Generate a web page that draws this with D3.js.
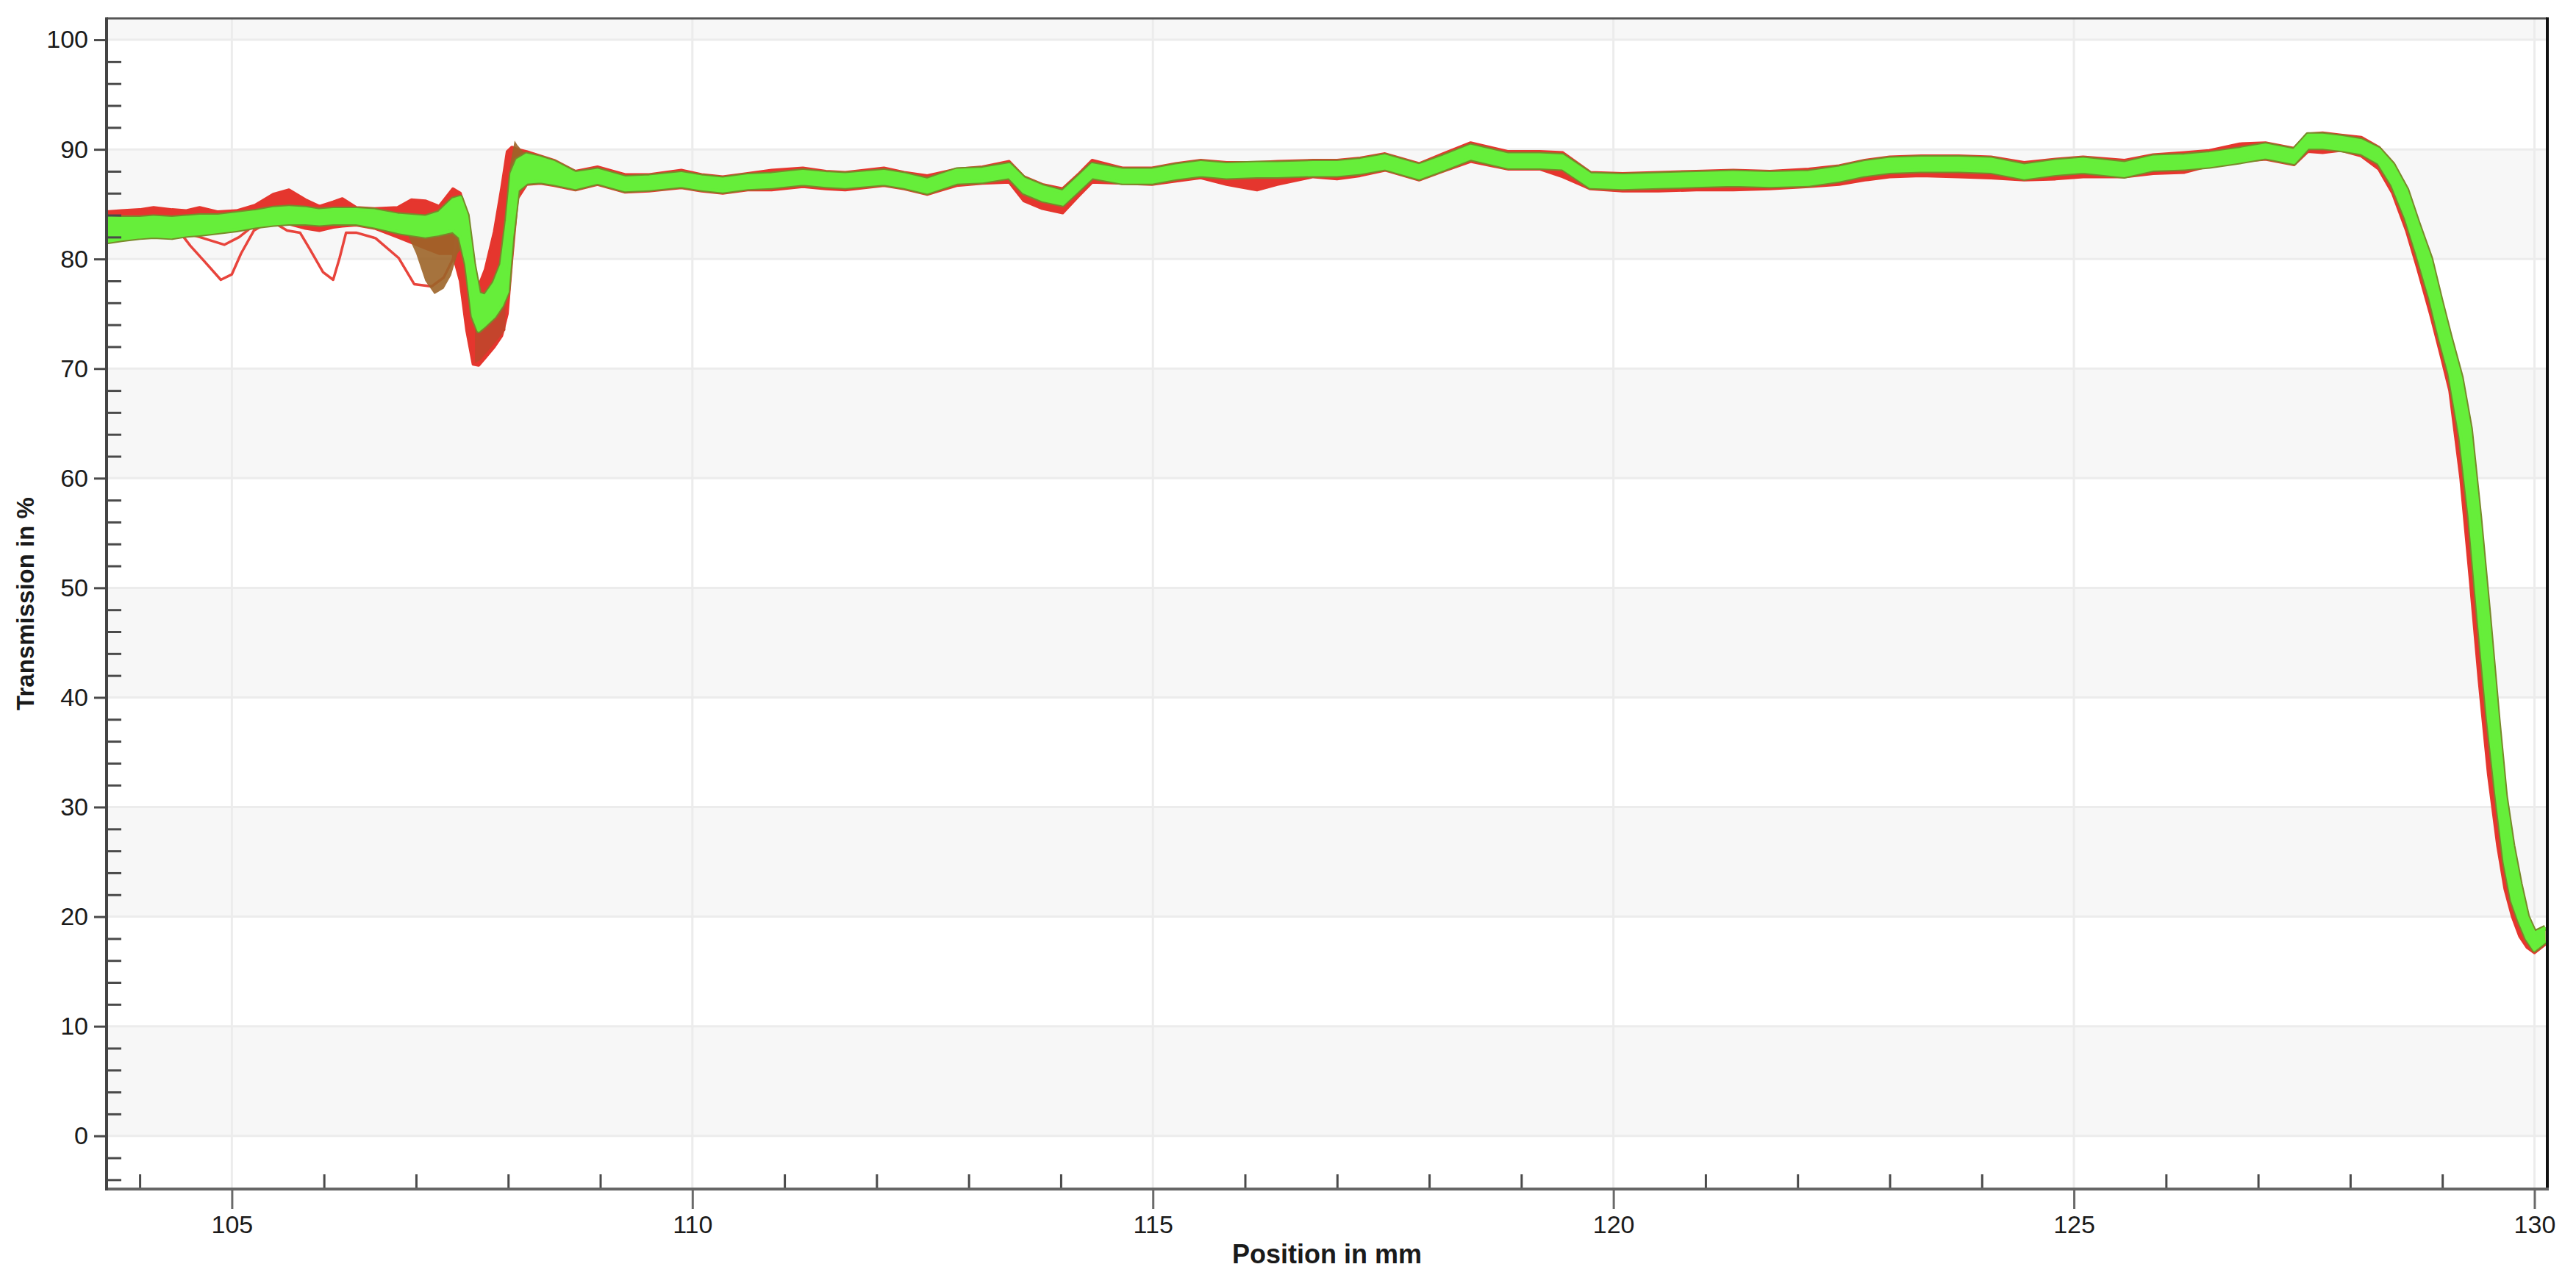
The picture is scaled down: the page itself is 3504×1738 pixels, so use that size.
<!DOCTYPE html>
<html>
<head>
<meta charset="utf-8">
<script src="https://cdn.jsdelivr.net/npm/d3@7"></script>
<style>
	html, body { margin: 0; padding: 0; background: #fff; }
	svg { display: block; }
</style>
</head>
<body>
<div id="chart"></div>
<script>
// transmission scan: many overlaid runs, drawn as red / green envelopes

var positionMm = [103.64, 103.8, 104.0, 104.15, 104.35, 104.5, 104.65, 104.85, 105.05, 105.25,
	105.45, 105.62, 105.8, 105.95, 106.1, 106.2, 106.35, 106.55, 106.8, 106.95,
	107.1, 107.25, 107.4, 107.48, 107.55, 107.62, 107.68, 107.75, 107.85, 107.93,
	107.99, 108.04, 108.1, 108.2, 108.35, 108.5, 108.73, 108.97, 109.27, 109.53,
	109.88, 110.1, 110.33, 110.6, 110.86, 111.2, 111.45, 111.66, 112.08, 112.3,
	112.55, 112.87, 113.15, 113.44, 113.6, 113.8, 114.02, 114.2, 114.34, 114.67,
	114.99, 115.25, 115.52, 115.8, 116.13, 116.35, 116.74, 117.0, 117.25, 117.52,
	117.89, 118.15, 118.45, 118.86, 119.2, 119.45, 119.75, 120.1, 120.49, 120.9,
	121.3, 121.7, 122.12, 122.45, 122.73, 123.0, 123.34, 123.75, 124.1, 124.46,
	124.8, 125.1, 125.55, 125.86, 126.2, 126.47, 126.8, 127.08, 127.39, 127.54,
	127.7, 127.9, 128.12, 128.31, 128.46, 128.61, 128.73, 128.87, 128.98, 129.08,
	129.2, 129.3, 129.4, 129.5, 129.6, 129.68, 129.76, 129.84, 129.92, 130.0, 130.12];

var greenUpper = [83.8, 83.7, 83.7, 83.8, 83.7, 83.8, 83.9, 83.9, 84.1, 84.3,
	84.6, 84.7, 84.6, 84.4, 84.5, 84.5, 84.5, 84.4, 84.0, 83.9,
	83.8, 84.2, 85.4, 85.6, 84.0, 79.5, 76.8, 76.6, 77.8, 79.5,
	83.5, 87.8, 89.0, 89.5, 89.2, 88.8, 87.8, 88.1, 87.4, 87.5,
	87.8, 87.5, 87.3, 87.6, 87.7, 88.0, 87.8, 87.7, 88.0, 87.7,
	87.2, 88.1, 88.2, 88.6, 87.3, 86.6, 86.1, 87.5, 88.6, 88.1,
	88.1, 88.5, 88.8, 88.6, 88.7, 88.7, 88.8, 88.8, 89.0, 89.4,
	88.5, 89.3, 90.3, 89.5, 89.5, 89.4, 87.7, 87.6, 87.7, 87.8,
	87.9, 87.8, 87.9, 88.3, 88.8, 89.1, 89.2, 89.2, 89.1, 88.5,
	88.9, 89.1, 88.7, 89.3, 89.4, 89.6, 90.0, 90.4, 89.9, 91.3,
	91.3, 91.1, 90.8, 90.0, 88.6, 86.3, 83.3, 80.0, 76.2, 72.9,
	69.2, 64.5, 56.5, 47.5, 38.0, 31.0, 26.5, 23.0, 20.0, 18.5, 19.0];

var greenLower = [81.6, 81.8, 82.0, 82.1, 82.0, 82.2, 82.3, 82.5, 82.7, 83.0,
	83.2, 83.3, 83.3, 83.2, 83.3, 83.3, 83.3, 83.0, 82.5, 82.3,
	82.1, 82.3, 82.6, 82.0, 79.5, 74.8, 73.5, 74.0, 74.8, 75.8,
	77.0, 82.0, 86.3, 87.0, 87.1, 86.9, 86.5, 87.0, 86.3, 86.4,
	86.7, 86.4, 86.2, 86.5, 86.6, 86.9, 86.7, 86.6, 86.9, 86.6,
	86.1, 87.0, 87.1, 87.5, 86.1, 85.4, 85.0, 86.4, 87.5, 87.0,
	87.0, 87.4, 87.7, 87.5, 87.6, 87.6, 87.7, 87.7, 87.9, 88.3,
	87.4, 88.2, 89.2, 88.4, 88.4, 88.3, 86.6, 86.5, 86.6, 86.7,
	86.8, 86.7, 86.8, 87.2, 87.7, 88.0, 88.1, 88.1, 88.0, 87.4,
	87.8, 88.0, 87.6, 88.2, 88.3, 88.5, 88.9, 89.3, 88.8, 90.2,
	90.2, 90.0, 89.7, 88.8, 86.8, 83.7, 80.5, 76.5, 72.7, 69.6,
	63.8, 56.5, 47.0, 38.0, 30.5, 25.0, 21.5, 19.6, 18.0, 17.0, 17.8];

var redUpper = [84.3, 84.4, 84.5, 84.7, 84.5, 84.4, 84.7, 84.3, 84.4, 84.9,
	85.9, 86.3, 85.4, 84.8, 85.2, 85.5, 84.7, 84.6, 84.7, 85.4,
	85.3, 84.8, 86.4, 86.0, 84.0, 79.0, 77.5, 79.0, 82.5, 86.5,
	89.8, 90.2, 90.0, 89.8, 89.4, 89.0, 88.0, 88.4, 87.7, 87.7,
	88.1, 87.7, 87.5, 87.8, 88.1, 88.3, 88.0, 87.9, 88.3, 87.9,
	87.6, 88.2, 88.4, 88.9, 87.5, 86.8, 86.4, 87.8, 89.0, 88.3,
	88.3, 88.7, 89.0, 88.8, 88.8, 88.9, 89.0, 89.0, 89.2, 89.6,
	88.7, 89.6, 90.6, 89.8, 89.8, 89.7, 87.9, 87.8, 87.9, 88.0,
	88.1, 88.0, 88.2, 88.5, 89.0, 89.3, 89.4, 89.4, 89.3, 88.8,
	89.1, 89.3, 89.0, 89.5, 89.7, 89.9, 90.5, 90.6, 90.1, 91.4,
	91.5, 91.3, 91.1, 90.2, 88.8, 86.5, 83.5, 80.2, 76.4, 73.0,
	69.4, 64.5, 56.5, 47.5, 38.0, 31.0, 26.5, 23.0, 20.0, 18.5, 19.0];

var redLower = [82.0, 82.2, 82.3, 82.4, 82.3, 82.4, 82.5, 82.6, 82.8, 83.0,
	83.2, 83.2, 82.8, 82.6, 82.9, 83.0, 83.1, 82.8, 82.0, 81.5,
	81.0, 80.5, 80.5, 78.0, 73.5, 70.4, 70.3, 71.0, 72.0, 73.0,
	75.0, 80.0, 85.5, 86.8, 86.9, 86.7, 86.3, 86.8, 86.1, 86.2,
	86.5, 86.2, 86.0, 86.3, 86.3, 86.6, 86.4, 86.3, 86.7, 86.4,
	85.9, 86.7, 86.9, 87.0, 85.3, 84.6, 84.2, 85.8, 87.0, 86.9,
	86.8, 87.1, 87.4, 86.8, 86.3, 86.8, 87.5, 87.3, 87.6, 88.1,
	87.2, 88.0, 88.9, 88.2, 88.2, 87.5, 86.4, 86.2, 86.2, 86.3,
	86.3, 86.4, 86.6, 86.8, 87.2, 87.5, 87.6, 87.5, 87.4, 87.2,
	87.3, 87.5, 87.5, 87.8, 87.9, 88.5, 88.9, 89.1, 88.6, 89.8,
	89.7, 89.9, 89.4, 88.2, 86.0, 82.6, 79.2, 75.0, 71.4, 68.0,
	60.0, 51.0, 41.5, 33.0, 26.5, 22.5, 20.0, 18.2, 17.2, 16.7, 17.5];

// single runs that drop out of the bundle near the start
var outlierAMm = [104.42, 104.55, 104.7, 104.88, 105.0, 105.1, 105.24, 105.42, 105.6, 105.74,
	105.84, 105.99, 106.1, 106.17, 106.24, 106.35, 106.56, 106.81, 106.98, 107.17,
	107.3, 107.4, 107.46];
var outlierAValue = [82.6, 81.2, 79.8, 78.1, 78.6, 80.5, 82.6, 83.5, 82.6, 82.4,
	81.0, 78.8, 78.1, 80.1, 82.4, 82.4, 81.9, 80.1, 77.7, 77.5,
	78.3, 80.0, 83.0];
var outlierBMm = [104.4, 104.65, 104.92, 105.08, 105.2];
var outlierBValue = [82.6, 82.0, 81.3, 82.0, 82.8];

// brown runs: the dip before the edge and the overshoot after it (null = gap)
var brownMm = [106.92, 107.0, 107.1, 107.2, 107.3, 107.38, 107.45, 107.5, 107.8, 108.02, 108.07, 108.1, 108.16, 108.24];
var brownUpper = [82.5, 82.4, 82.3, 82.0, 82.2, 82.5, 82.8, 82.0, null, 88.5, 90.8, 90.4, 89.8, 89.6];
var brownLower = [82.0, 80.5, 78.0, 76.8, 77.3, 78.5, 80.5, 81.0, null, 87.5, 89.0, 89.2, 89.0, 89.0];

// darker red where the runs pile up inside the dip
var dipMm = [107.64, 107.7, 107.8, 107.9, 107.97];
var dipUpper = [74.5, 75.7, 75.7, 75.8, 76.0];
var dipLower = [70.5, 70.8, 71.8, 72.8, 73.5];

var yMajorTicks = [0, 10, 20, 30, 40, 50, 60, 70, 80, 90, 100];
var yMinorTicks = [-4, -2, 2, 4, 6, 8, 12, 14, 16, 18, 22, 24, 26, 28, 32, 34, 36, 38, 42, 44, 46, 48,
	52, 54, 56, 58, 62, 64, 66, 68, 72, 74, 76, 78, 82, 84, 86, 88, 92, 94, 96, 98];
var xMajorTicks = [105, 110, 115, 120, 125, 130];
var xMinorTicks = [104, 106, 107, 108, 109, 111, 112, 113, 114, 116, 117, 118, 119,
	121, 122, 123, 124, 126, 127, 128, 129];
var shadedBands = [[0, 10], [20, 30], [40, 50], [60, 70], [80, 90], [100, 110]];

var W = 3504, H = 1738;
var plot = {left: 145, top: 25, right: 3465, bottom: 1617};
var FONT = "'Liberation Sans', Arial, sans-serif";

var x = d3.scaleLinear().domain([103.64, 130.14]).range([plot.left, plot.right]);
var y = d3.scaleLinear().domain([-4.85, 101.95]).range([plot.bottom, plot.top]);

function band(xs, hi, lo) {
	return xs.map(function(p, i) { return {x: p, hi: hi[i], lo: lo[i]}; });
}
function pts(xs, vs) {
	return xs.map(function(p, i) { return {x: p, v: vs[i]}; });
}

var svg = d3.select("#chart").append("svg")
	.attr("width", W)
	.attr("height", H);

svg.append("defs").append("clipPath").attr("id", "plotclip")
	.append("rect")
	.attr("x", plot.left).attr("y", plot.top)
	.attr("width", plot.right - plot.left).attr("height", plot.bottom - plot.top);

// alternating background bands
svg.append("g").selectAll("rect").data(shadedBands).enter().append("rect")
	.attr("x", plot.left)
	.attr("width", plot.right - plot.left)
	.attr("y", function(d) { return Math.max(plot.top, y(d[1])); })
	.attr("height", function(d) { return y(d[0]) - Math.max(plot.top, y(d[1])); })
	.attr("fill", "#f7f7f7");

// grid
var grid = svg.append("g").attr("stroke", "#ececec").attr("stroke-width", 3);
grid.selectAll("line.h").data(yMajorTicks).enter().append("line")
	.attr("x1", plot.left).attr("x2", plot.right)
	.attr("y1", function(d) { return y(d); }).attr("y2", function(d) { return y(d); });
grid.selectAll("line.v").data(xMajorTicks).enter().append("line")
	.attr("y1", plot.top).attr("y2", plot.bottom)
	.attr("x1", function(d) { return x(d); }).attr("x2", function(d) { return x(d); });

var traces = svg.append("g").attr("clip-path", "url(#plotclip)");

var area = d3.area()
	.defined(function(d) { return d.hi != null; })
	.x(function(d) { return x(d.x); })
	.y0(function(d) { return y(d.lo); })
	.y1(function(d) { return y(d.hi); });
var topLine = d3.line().x(function(d) { return x(d.x); }).y(function(d) { return y(d.hi); });
var bottomLine = d3.line().x(function(d) { return x(d.x); }).y(function(d) { return y(d.lo); });
var valueLine = d3.line().x(function(d) { return x(d.x); }).y(function(d) { return y(d.v); });

var redBand = band(positionMm, redUpper, redLower);
var greenBand = band(positionMm, greenUpper, greenLower);

// red runs underneath
traces.append("path").attr("d", area(redBand)).attr("fill", "#e5362e");
[topLine, bottomLine].forEach(function(l) {
	traces.append("path").attr("d", l(redBand))
		.attr("fill", "none").attr("stroke", "#e5362e")
		.attr("stroke-width", 4).attr("stroke-linejoin", "round");
});

[pts(outlierAMm, outlierAValue), pts(outlierBMm, outlierBValue)].forEach(function(run) {
	traces.append("path").attr("d", valueLine(run))
		.attr("fill", "none").attr("stroke", "#e8443c")
		.attr("stroke-width", 3.5).attr("stroke-linejoin", "round");
});

traces.append("path").attr("d", area(band(dipMm, dipUpper, dipLower))).attr("fill", "#c4442c");
traces.append("path").attr("d", area(band(brownMm, brownUpper, brownLower)))
	.attr("fill", "#9c6428").attr("fill-opacity", 0.9);

// olive rims, then the green bundle on top
[topLine, bottomLine].forEach(function(l) {
	traces.append("path").attr("d", l(greenBand))
		.attr("fill", "none").attr("stroke", "#788a2a")
		.attr("stroke-width", 8).attr("stroke-linejoin", "round");
});
traces.append("path").attr("d", area(greenBand)).attr("fill", "#66ee3a");
[topLine, bottomLine].forEach(function(l) {
	traces.append("path").attr("d", l(greenBand))
		.attr("fill", "none").attr("stroke", "#66ee3a")
		.attr("stroke-width", 4).attr("stroke-linejoin", "round");
});

// axes
var yAxis = svg.append("g").attr("transform", "translate(" + plot.left + ",0)")
	.call(d3.axisLeft(y).tickValues(yMajorTicks).tickSize(17).tickPadding(8).tickFormat(d3.format("d")));
var yMinor = svg.append("g").attr("transform", "translate(" + plot.left + ",0)")
	.call(d3.axisRight(y).tickValues(yMinorTicks).tickSize(20).tickFormat(""));
var xAxis = svg.append("g").attr("transform", "translate(0," + plot.bottom + ")")
	.call(d3.axisBottom(x).tickValues(xMajorTicks).tickSize(27).tickPadding(9).tickFormat(d3.format("d")));
var xMinor = svg.append("g").attr("transform", "translate(0," + plot.bottom + ")")
	.call(d3.axisTop(x).tickValues(xMinorTicks).tickSize(20).tickFormat(""));

[yAxis, yMinor, xAxis, xMinor].forEach(function(g) {
	g.select(".domain").remove();
	g.selectAll(".tick line").attr("stroke", "#4a4a4a").attr("stroke-width", 3);
	g.selectAll(".tick text").attr("fill", "#1a1a1a")
		.style("font-family", FONT).style("font-size", "34px");
});
xAxis.selectAll(".tick line").attr("stroke", "#6a6a6a");

// frame
svg.append("line").attr("x1", plot.left).attr("x2", plot.right)
	.attr("y1", plot.top).attr("y2", plot.top)
	.attr("stroke", "#555").attr("stroke-width", 3);
svg.append("line").attr("x1", plot.right).attr("x2", plot.right)
	.attr("y1", plot.top - 1.5).attr("y2", plot.bottom + 2)
	.attr("stroke", "#111").attr("stroke-width", 4);
svg.append("line").attr("x1", plot.left).attr("x2", plot.right + 2)
	.attr("y1", plot.bottom).attr("y2", plot.bottom)
	.attr("stroke", "#666").attr("stroke-width", 4);
svg.append("line").attr("x1", plot.left).attr("x2", plot.left)
	.attr("y1", plot.top - 1.5).attr("y2", plot.bottom + 2)
	.attr("stroke", "#444").attr("stroke-width", 4);

// titles
svg.append("text")
	.attr("x", (plot.left + plot.right) / 2).attr("y", 1718)
	.attr("text-anchor", "middle")
	.style("font-family", FONT).style("font-size", "36px").style("font-weight", "bold")
	.attr("fill", "#1a1a1a")
	.text("Position in mm");
svg.append("text")
	.attr("transform", "translate(46," + (plot.top + plot.bottom) / 2 + ") rotate(-90)")
	.attr("text-anchor", "middle")
	.style("font-family", FONT).style("font-size", "33px").style("font-weight", "bold")
	.attr("fill", "#1a1a1a")
	.text("Transmission in %");
</script>
</body>
</html>
